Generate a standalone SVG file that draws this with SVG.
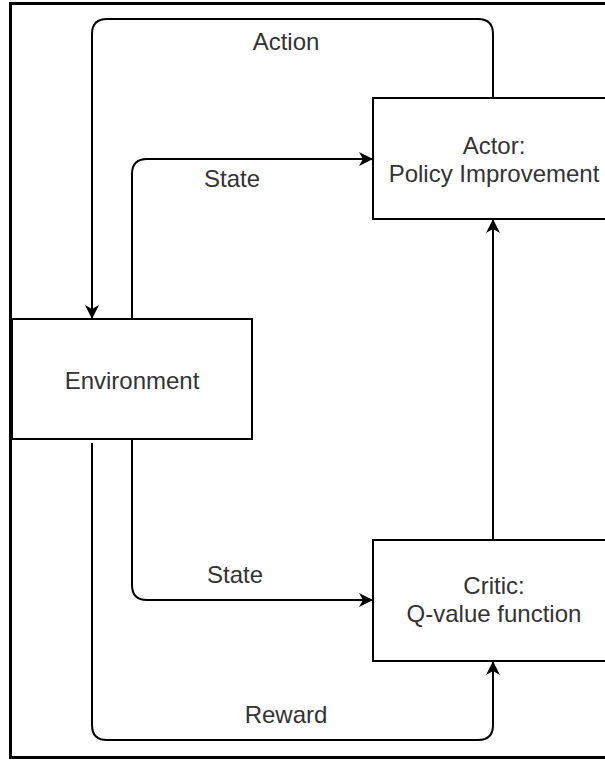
<svg xmlns="http://www.w3.org/2000/svg" width="605" height="762" viewBox="0 0 605 762">
<style>
.box{fill:#fff;stroke:#000;stroke-width:2}
.edge{fill:none;stroke:#000;stroke-width:2}
.lbl{font-family:"Liberation Sans",Arial,sans-serif;font-size:24px;fill:#333;text-anchor:middle}
</style>
<defs>
<marker id="arr" viewBox="0 0 14 14" refX="14" refY="7" markerWidth="14" markerHeight="14" markerUnits="userSpaceOnUse" orient="auto">
<path d="M0,0 L14,7 L0,14 L4,7 Z" fill="#000"/>
</marker>
</defs>
<rect x="0" y="0" width="605" height="762" fill="#fff"/>
<rect x="10.5" y="3.5" width="610" height="754" fill="none" stroke="#000" stroke-width="3"/>
<g id="connectors">
<path class="edge" d="M493,98 V34 Q493,19 478,19 H107 Q92,19 92,34 V319" marker-end="url(#arr)"/>
<path class="edge" d="M132,319 V174 Q132,159 147,159 H373" marker-end="url(#arr)"/>
<path class="edge" d="M132,439 V585 Q132,600 147,600 H373" marker-end="url(#arr)"/>
<path class="edge" d="M92,443 V725 Q92,740 107,740 H478 Q493,740 493,725 V661" marker-end="url(#arr)"/>
<path class="edge" d="M493,540 V219" marker-end="url(#arr)"/>
<text class="lbl" x="286" y="50">Action</text>
<text class="lbl" x="232" y="187">State</text>
<text class="lbl" x="235" y="583">State</text>
<text class="lbl" x="286" y="723">Reward</text>
</g>
<g id="environment">
<rect class="box" x="12" y="319" width="240" height="120"/>
<text class="lbl" x="132" y="389">Environment</text>
</g>
<g id="actor">
<rect class="box" x="373" y="98" width="240" height="121"/>
<text class="lbl" x="494" y="154">Actor:</text>
<text class="lbl" x="494" y="182">Policy Improvement</text>
</g>
<g id="critic">
<rect class="box" x="373" y="540" width="240" height="121"/>
<text class="lbl" x="494" y="594">Critic:</text>
<text class="lbl" x="494" y="622">Q-value function</text>
</g>
</svg>
